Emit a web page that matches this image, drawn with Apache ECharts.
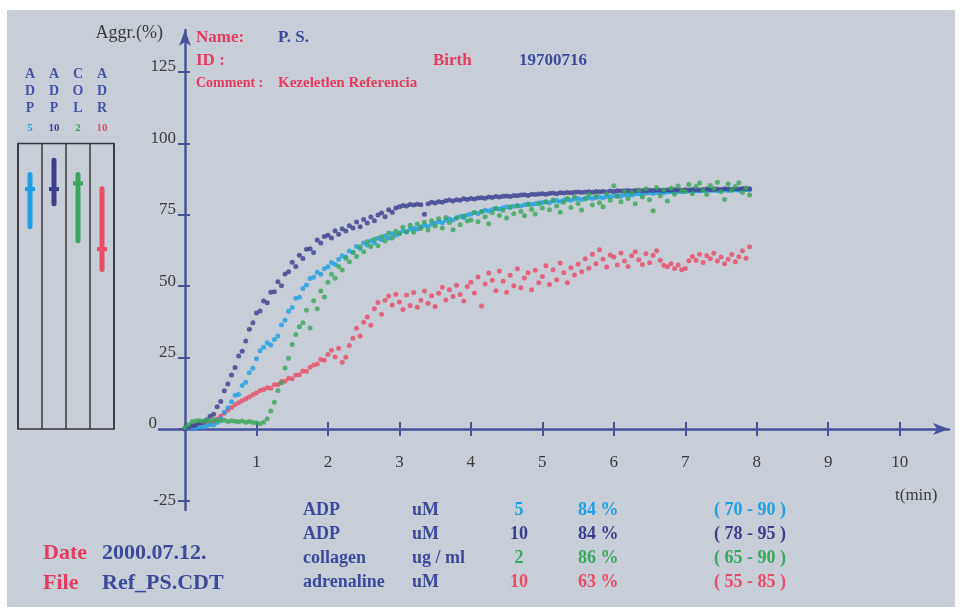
<!DOCTYPE html>
<html>
<head>
<meta charset="utf-8">
<title>Aggregation - Ref_PS.CDT</title>
<script src="https://cdn.jsdelivr.net/npm/echarts/dist/echarts.min.js"></script>
<style>
html,body{margin:0;padding:0;background:#fff;}
#frame{position:absolute;left:7px;top:10px;width:948px;height:597px;background:#c8ced8;}
#container{position:absolute;left:0;top:0;width:961px;height:614px;}
</style>
</head>
<body>
<div id="frame"></div>
<div id="container"></div>
<script>
// aggregometer samples every 0.05 min, one row = 1 min
var timeStep = 0.05;

var adp5 = [
    0,0.3,0.5,0.2,0.8,0.6,1.1,1.5,1.4,2.3,3.6,5.9,7.4,9.5,11.8,12.1,15.2,16.4,19.7,21.3,
    24.6,27.4,28.6,30.2,29.4,31.3,32.6,36.4,38.1,41.2,42.5,45.8,46.1,49.2,50.4,52.7,53.1,54.9,54.2,56.1,
    56.8,58.3,57.6,59.4,60.7,60.2,62.3,61.8,63.9,63.2,65.1,64.4,65.9,65.2,66.8,66.3,67.6,66.9,68.4,67.8,
    68.6,69.4,69.0,69.9,70.3,70.0,70.8,71.3,70.9,71.7,72.0,72.6,72.2,73.1,73.5,73.2,74.0,74.4,74.1,74.9,
    75.3,75.8,75.5,76.2,76.6,76.3,76.9,77.2,77.0,77.5,77.8,77.6,78.0,78.3,78.1,78.5,78.8,78.6,78.9,79.1,
    79.3,79.5,79.2,79.8,80.0,79.7,80.2,80.4,80.1,80.5,80.7,80.4,80.8,81.0,80.7,81.1,81.2,81.0,81.4,81.3,
    81.6,81.8,81.5,82.0,82.1,81.9,82.3,82.4,82.2,82.6,82.7,82.5,82.8,82.9,82.7,83.0,83.1,82.9,83.2,83.1,
    83.2,83.3,83.1,83.4,83.3,83.5,83.4,83.6,83.5,83.4,83.6,83.7,83.5,83.7,83.8,83.6,83.8,83.9,83.7
];
var adp10 = [
    0,0.6,1.2,1.4,2.1,2.3,3.2,4.5,5.2,7.8,9.6,13.4,15.8,18.9,21.5,25.6,27.2,30.8,34.9,37.2,
    40.6,41.3,44.8,44.2,47.9,48.1,51.6,50.2,54.3,55.1,58.4,56.9,60.8,59.7,62.9,63.1,61.8,66.2,65.1,67.4,
    67.8,66.9,69.4,68.2,70.1,69.3,71.2,70.4,72.5,70.8,73.4,72.1,74.2,72.9,74.9,75.6,74.3,76.8,75.9,77.4,
    77.8,78.3,78.1,78.6,78.4,78.7,78.5,75.2,78.9,79.4,79.1,79.6,79.4,79.9,80.2,79.8,80.3,80.1,80.6,80.4,
    80.7,80.5,80.9,81.0,80.8,81.2,81.1,81.4,81.2,81.5,81.6,81.4,81.8,81.7,81.9,82.0,81.8,82.2,82.1,82.3,
    82.4,82.2,82.5,82.6,82.4,82.7,82.6,82.8,82.7,82.9,83.0,82.8,83.0,83.1,82.9,83.2,83.1,83.2,83.0,83.3,
    83.2,83.4,83.3,83.4,83.5,83.3,83.5,83.6,83.4,83.5,83.6,83.5,83.7,83.6,83.5,83.7,83.6,83.8,83.7,83.6,
    83.8,83.7,83.9,83.8,83.7,83.9,84.0,83.8,83.9,84.0,83.9,84.1,84.0,83.9,84.1,84.0,84.2,84.0,84.1
];
var collagen2 = [
    0.5,1.5,2.5,2.8,3.0,2.7,3.1,2.9,3.2,3.0,2.8,3.1,2.6,2.9,2.7,2.5,2.8,2.4,2.6,2.3,
    2.2,1.8,2.4,3.6,6.3,9.4,13.5,16.2,21.4,24.8,29.6,33.1,35.8,37.2,41.6,35.4,44.9,42.1,48.3,46.2,
    51.4,54.2,52.8,56.9,55.7,59.8,58.6,61.9,60.4,63.8,62.1,65.6,63.9,66.4,64.2,67.3,65.8,68.6,66.9,69.2,
    68.4,70.6,69.1,71.3,68.9,71.8,70.2,72.4,69.7,72.9,71.1,73.6,70.4,74.1,72.3,69.8,73.9,71.5,74.6,72.8,
    73.2,75.8,72.6,76.1,74.3,71.9,75.7,77.2,74.8,76.6,73.9,77.8,75.4,78.1,76.2,74.7,78.6,76.9,75.3,78.9,
    77.4,79.6,76.8,80.2,78.1,75.9,79.4,80.8,77.6,81.3,79.0,76.7,80.5,82.1,78.4,81.6,79.2,77.8,82.4,80.1,
    85.2,81.4,79.6,83.1,80.7,82.8,78.9,83.6,81.2,84.1,80.3,76.4,84.6,81.7,83.8,79.8,84.3,82.2,85.1,83.4,
    83.2,85.6,82.4,84.9,86.1,83.7,82.1,85.3,84.2,86.4,83.1,80.4,85.8,83.6,84.9,86.2,82.8,84.4,81.9
];
var adrenaline10 = [
    0,0.3,0.8,1.5,2.0,2.2,2.4,2.3,2.6,3.5,4.5,5.5,6.6,7.5,8.5,9.2,9.9,10.6,11.2,12.0,
    12.6,13.5,13.8,14.4,14.3,15.5,15.6,16.6,16.7,17.8,17.6,18.9,19.0,20.3,20.2,21.6,22.4,22.8,24.3,24.1,
    26.1,27.6,25.2,28.3,23.4,25.1,29.2,31.8,35.3,32.6,37.4,39.2,36.3,42.1,44.3,40.2,45.1,46.6,43.4,47.2,
    44.5,41.8,46.9,43.2,47.8,42.6,45.1,48.3,44.0,46.7,42.9,47.5,49.6,45.2,48.8,46.4,50.3,47.1,44.8,49.9,
    51.4,47.6,53.2,43.1,50.8,54.6,52.1,48.4,55.3,51.7,47.9,53.8,50.2,56.1,49.5,52.9,54.7,48.8,55.6,51.2,
    53.4,57.2,50.6,55.8,52.3,58.1,54.7,51.2,56.5,53.9,57.8,55.1,59.6,56.3,61.2,57.9,62.8,59.4,56.7,60.9,
    60.2,57.4,61.6,58.8,56.9,60.7,62.1,59.3,57.6,61.4,58.2,60.8,62.4,59.1,57.3,56.8,57.9,56.2,57.4,55.8,
    56.2,58.9,60.4,59.1,61.2,58.3,60.7,59.6,61.5,58.8,60.2,57.9,59.4,61.1,58.6,60.3,62.4,59.8,63.8
];

// summary table / reference ranges
var agonists = ['ADP', 'ADP', 'collagen', 'adrenaline'];
var panelNames = ['ADP', 'ADP', 'COL', 'ADR'];
var units = ['uM', 'uM', 'ug / ml', 'uM'];
var doses = ['5', '10', '2', '10'];
var maxAggr = [84, 84, 86, 63];
var refLow = [70, 78, 65, 55];
var refHigh = [90, 95, 90, 85];

var xTicks = [1, 2, 3, 4, 5, 6, 7, 8, 9, 10];
var yTicks = [0, 25, 50, 75, 100, 125];
var yTicksNeg = [-25];

var page = {
    colors: ['#1e9fe4', '#3b3e8d', '#38a85a', '#ea4b67'],
    axisColor: '#48539c',
    red: '#e43b5e',
    blue: '#3d4a9c',
    serif: '"Liberation Serif", "Times New Roman", serif',

    init: function () {
        this.generateCharts();
    },
    //时间-数值点
    toPoints: function (arr) {
        return arr.map(function (v, i) {
            return [i * timeStep, v];
        });
    },
    txt: function (text, x, y, size, color, bold) {
        return {
            type: 'text', x: x, y: y, z: 10, silent: true,
            style: {
                text: text, fill: color, align: 'left', verticalAlign: 'middle',
                font: (bold === false ? '' : 'bold ') + size + 'px ' + this.serif
            }
        };
    },
    buildGraphic: function () {
        var that = this, g = [];
        g.push(this.txt('Name:', 196, 38, 17, this.red));
        g.push(this.txt('P. S.', 278, 38, 17, this.blue));
        g.push(this.txt('ID :', 196, 61, 17, this.red));
        g.push(this.txt('Birth', 433, 61, 17, this.red));
        g.push(this.txt('19700716', 519, 61, 17, this.blue));
        g.push(this.txt('Comment :', 196, 83, 14, this.red));
        g.push(this.txt('Kezeletlen Referencia', 278, 83, 15, this.red));

        g.push(this.txt('Date', 43, 553, 22, this.red));
        g.push(this.txt('2000.07.12.', 102, 553, 22, this.blue));
        g.push(this.txt('File', 43, 583, 22, this.red));
        g.push(this.txt('Ref_PS.CDT', 102, 583, 22, this.blue));

        for (var i = 0; i < agonists.length; i++) {
            var y = 510 + i * 24, c = that.colors[i];
            g.push(that.txt(agonists[i], 303, y, 18, that.blue));
            g.push(that.txt(units[i], 412, y, 18, that.blue));
            var d = that.txt(doses[i], 519, y, 18, c);
            d.style.align = 'center';
            g.push(d);
            g.push(that.txt(maxAggr[i] + ' %', 578, y, 18, c));
            g.push(that.txt('( ' + refLow[i] + ' - ' + refHigh[i] + ' )', 714, y, 18, c));
        }
        return g;
    },
    generateCharts: function () {
        var that = this;
        var lineStyle = {color: this.axisColor, width: 2.5};
        var tickStyle = {color: this.axisColor, width: 2};
        var labelFont = {fontFamily: this.serif, fontSize: 17, color: '#3a3a3a'};
        var xMax = 10.69, yMin = -28.36, yMax = 139.71, xExt = -0.364;

        var rich = {};
        panelNames.forEach(function (n, i) {
            rich['d' + i] = {color: that.colors[i], fontSize: 11, fontWeight: 'bold',
                fontFamily: that.serif, lineHeight: 24};
        });
        var yLabel = function (v) { return v === 0 ? '{z|0}' : String(v); };

        var series = [
            {name: 'adrenaline 10', data: adrenaline10, color: this.colors[3]},
            {name: 'ADP 5', data: adp5, color: this.colors[0]},
            {name: 'ADP 10', data: adp10, color: this.colors[1]},
            {name: 'collagen 2', data: collagen2, color: this.colors[2]}
        ].map(function (s) {
            return {
                type: 'scatter', name: s.name, xAxisIndex: 0, yAxisIndex: 0,
                symbol: 'circle', symbolSize: 5, clip: false,
                itemStyle: {color: s.color},
                data: that.toPoints(s.data)
            };
        });

        // 参考范围
        series.push({
            type: 'custom', xAxisIndex: 2, yAxisIndex: 2,
            data: panelNames.map(function (n, i) { return [i, refLow[i], refHigh[i], maxAggr[i]]; }),
            renderItem: function (params, api) {
                var lo = api.coord([api.value(0), api.value(1)]);
                var hi = api.coord([api.value(0), api.value(2)]);
                var mid = api.coord([api.value(0), api.value(3)]);
                var c = that.colors[params.dataIndex];
                return {
                    type: 'group', children: [
                        {type: 'rect', shape: {x: lo[0] - 2.5, y: hi[1], width: 5, height: lo[1] - hi[1], r: 2.5}, style: {fill: c}},
                        {type: 'rect', shape: {x: mid[0] - 5, y: mid[1] - 2, width: 10, height: 4}, style: {fill: c}}
                    ]
                };
            }
        });

        var option = {
            backgroundColor: 'transparent',
            animation: false,
            grid: [
                // 0: main plot (0 .. yMax)
                {left: 185, top: 30, width: 764, height: 399},
                // 1: reference range panel
                {left: 18, top: 143.4, width: 96, height: 285.6, show: true,
                    borderColor: '#353535', borderWidth: 1.5, backgroundColor: 'transparent'},
                // 2: negative part of the y axis
                {left: 185, top: 429, width: 764, height: 81},
                // 3: x axis stub left of the origin
                {left: 159, top: 30, width: 26, height: 399}
            ],
            xAxis: [
                {
                    type: 'value', gridIndex: 0, min: 0, max: xMax,
                    name: 't(min)', nameLocation: 'end', nameGap: -54,
                    nameTextStyle: {fontFamily: this.serif, fontSize: 17, color: '#3a3a3a',
                        align: 'left', verticalAlign: 'top', padding: [58, 0, 0, 0]},
                    axisLine: {lineStyle: lineStyle, symbol: ['none', 'arrow'], symbolSize: [9, 16]},
                    axisTick: {customValues: xTicks, length: 7, lineStyle: tickStyle},
                    axisLabel: Object.assign({customValues: xTicks, margin: 25}, labelFont),
                    splitLine: {show: false}
                },
                {
                    type: 'value', gridIndex: 0, min: 0, max: xMax, position: 'bottom',
                    axisLine: {show: false},
                    axisTick: {customValues: xTicks, inside: true, length: 7, lineStyle: tickStyle},
                    axisLabel: {show: false},
                    splitLine: {show: false}
                },
                {
                    type: 'category', gridIndex: 1, data: panelNames, position: 'top',
                    axisLine: {show: false, onZero: false},
                    axisTick: {show: false},
                    axisLabel: {
                        interval: 0, margin: 3, fontFamily: this.serif, fontSize: 14, fontWeight: 'bold',
                        color: '#4654a4', lineHeight: 17, align: 'center', verticalAlign: 'bottom',
                        formatter: function (value, index) {
                            return value.split('').join('\n') + '\n{d' + index + '|' + doses[index] + '}';
                        },
                        rich: rich
                    },
                    splitLine: {show: true, interval: 0, lineStyle: {color: '#353535', width: 1.5}}
                },
                {type: 'value', gridIndex: 2, min: 0, max: xMax, show: false},
                {
                    type: 'value', gridIndex: 3, min: xExt, max: 0,
                    axisLine: {lineStyle: lineStyle},
                    axisTick: {show: false}, axisLabel: {show: false}, splitLine: {show: false}
                }
            ],
            yAxis: [
                {
                    type: 'value', gridIndex: 0, min: 0, max: yMax, position: 'left',
                    name: 'Aggr.(%)', nameLocation: 'end', nameGap: -3,
                    nameTextStyle: {fontFamily: this.serif, fontSize: 18, color: '#3a3a3a',
                        align: 'right', verticalAlign: 'middle', padding: [0, 22, 0, 0]},
                    axisLine: {lineStyle: lineStyle, symbol: ['none', 'arrow'], symbolSize: [9, 16]},
                    axisTick: {customValues: yTicks, length: 7, lineStyle: tickStyle},
                    axisLabel: Object.assign({
                        customValues: yTicks, margin: 9, padding: [0, 0, 10, 0], formatter: yLabel,
                        rich: {z: {fontFamily: this.serif, fontSize: 17, color: '#3a3a3a', padding: [0, 19, 0, 0]}}
                    }, labelFont),
                    splitLine: {show: false}
                },
                {
                    type: 'value', gridIndex: 0, min: 0, max: yMax, position: 'left',
                    axisLine: {show: false},
                    axisTick: {customValues: yTicks, inside: true, length: 5, lineStyle: tickStyle},
                    axisLabel: {show: false},
                    splitLine: {show: false}
                },
                {type: 'value', gridIndex: 1, min: 0, max: 100, show: false},
                {
                    type: 'value', gridIndex: 2, min: yMin, max: 0, position: 'left',
                    axisLine: {lineStyle: lineStyle},
                    axisTick: {customValues: yTicksNeg, length: 7, lineStyle: tickStyle},
                    axisLabel: Object.assign({customValues: yTicksNeg, margin: 9, padding: [0, 0, 10, 0]}, labelFont),
                    splitLine: {show: false}
                },
                {
                    type: 'value', gridIndex: 2, min: yMin, max: 0, position: 'left',
                    axisLine: {show: false},
                    axisTick: {customValues: yTicksNeg, inside: true, length: 5, lineStyle: tickStyle},
                    axisLabel: {show: false},
                    splitLine: {show: false}
                },
                {type: 'value', gridIndex: 3, min: 0, max: 1, show: false}
            ],
            graphic: this.buildGraphic(),
            series: series
        };

        echarts.init(document.getElementById('container')).setOption(option);
    }
};

page.init();
</script>
</body>
</html>
